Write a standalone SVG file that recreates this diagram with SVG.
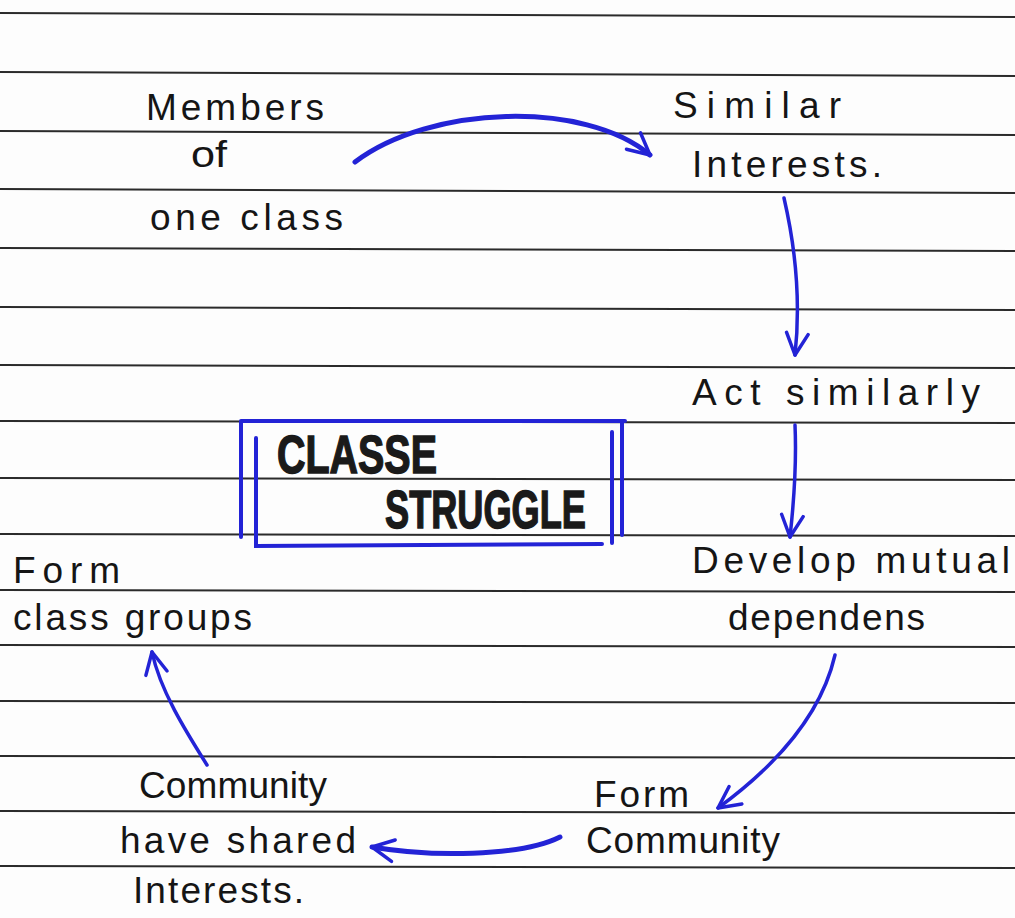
<svg xmlns="http://www.w3.org/2000/svg" width="1015" height="918" viewBox="0 0 1015 918">
<style>
.rule{stroke:#2b2b2b;stroke-width:2;fill:none}
.hw{font-family:"Liberation Sans","Noto Sans",sans-serif;font-size:37px;fill:#151515}
.title{font-family:"Liberation Sans",sans-serif;font-weight:bold;font-size:54px;fill:#1a1a1a;stroke:#1a1a1a;stroke-width:1.5}
.arr{fill:none;stroke:#2323d6;stroke-width:3.5;stroke-linecap:round;marker-end:url(#chev)}
.box{fill:none;stroke:#2323d6;stroke-width:4;stroke-linecap:round}
</style>
<defs>
<marker id="chev" viewBox="0 0 12 12" refX="11" refY="6" markerWidth="26" markerHeight="26" markerUnits="userSpaceOnUse" orient="auto">
<path d="M1,1 L11,6 L1,11" fill="none" stroke="#2323d6" stroke-width="1.6" stroke-linecap="round" stroke-linejoin="round"/>
</marker>
</defs>
<rect width="1015" height="918" fill="#fdfdfd"/>
<g id="ruled-lines">
<path class="rule" d="M0,13 L1015,17"/>
<path class="rule" d="M0,72 L1015,76"/>
<path class="rule" d="M0,131 L1015,135"/>
<path class="rule" d="M0,189 L1015,193"/>
<path class="rule" d="M0,248 L1015,251"/>
<path class="rule" d="M0,307 L1015,310"/>
<path class="rule" d="M0,365 L1015,368"/>
<path class="rule" d="M0,421 L1015,423"/>
<path class="rule" d="M0,478 L1015,480"/>
<path class="rule" d="M0,534 L1015,536"/>
<path class="rule" d="M0,590 L1015,592"/>
<path class="rule" d="M0,645 L1015,647"/>
<path class="rule" d="M0,701 L1015,703"/>
<path class="rule" d="M0,756 L1015,758"/>
<path class="rule" d="M0,811 L1015,813"/>
<path class="rule" d="M0,866 L1015,868"/>
</g>
<g id="node-members">
<text class="hw" x="146" y="120" textLength="178" lengthAdjust="spacing">Members</text>
<text class="hw" x="191" y="167" textLength="36" lengthAdjust="spacingAndGlyphs">of</text>
<text class="hw" x="150" y="230" textLength="193" lengthAdjust="spacing">one class</text>
</g>
<g id="node-similar">
<text class="hw" x="673" y="118" textLength="168" lengthAdjust="spacing">Similar</text>
<text class="hw" x="692" y="177" textLength="190" lengthAdjust="spacing">Interests.</text>
</g>
<g id="node-act">
<text class="hw" x="692" y="405" textLength="288" lengthAdjust="spacing">Act similarly</text>
</g>
<g id="node-develop">
<text class="hw" x="692" y="573" textLength="318" lengthAdjust="spacing">Develop mutual</text>
<text class="hw" x="728" y="630" textLength="197" lengthAdjust="spacing">dependens</text>
</g>
<g id="node-form-community">
<text class="hw" x="594" y="807" textLength="95" lengthAdjust="spacing">Form</text>
<text class="hw" x="586" y="853" textLength="194" lengthAdjust="spacing">Community</text>
</g>
<g id="node-shared">
<text class="hw" x="139" y="798" textLength="188" lengthAdjust="spacing">Community</text>
<text class="hw" x="120" y="853" textLength="236" lengthAdjust="spacing">have shared</text>
<text class="hw" x="133" y="903" textLength="171" lengthAdjust="spacing">Interests.</text>
</g>
<g id="node-form-groups">
<text class="hw" x="13" y="583" textLength="107" lengthAdjust="spacing">Form</text>
<text class="hw" x="13" y="630" textLength="239" lengthAdjust="spacing">class groups</text>
</g>
<g id="node-class-struggle">
<path class="box" d="M241,421 L625,421 M241,421 L241,537 M622,421 L622,535 M256,438 L256,546 L602,544 M612,432 L612,543"/>
<text class="title" x="277" y="473" textLength="160" lengthAdjust="spacingAndGlyphs">CLASSE</text>
<text class="title" x="385" y="528" textLength="201" lengthAdjust="spacingAndGlyphs">STRUGGLE</text>
</g>
<g id="connectors">
<path class="arr" style="stroke-width:5" d="M355,162 C430,105 585,100 650,155"/>
<path class="arr" d="M784,198 C796,250 801,300 795,355"/>
<path class="arr" d="M795,425 C797,470 793,510 790,537"/>
<path class="arr" d="M835,655 C820,720 770,770 718,808"/>
<path class="arr" style="stroke-width:5" d="M560,837 C520,857 430,857 372,847"/>
<path class="arr" d="M207,765 C185,730 160,690 152,652"/>
</g>
</svg>
